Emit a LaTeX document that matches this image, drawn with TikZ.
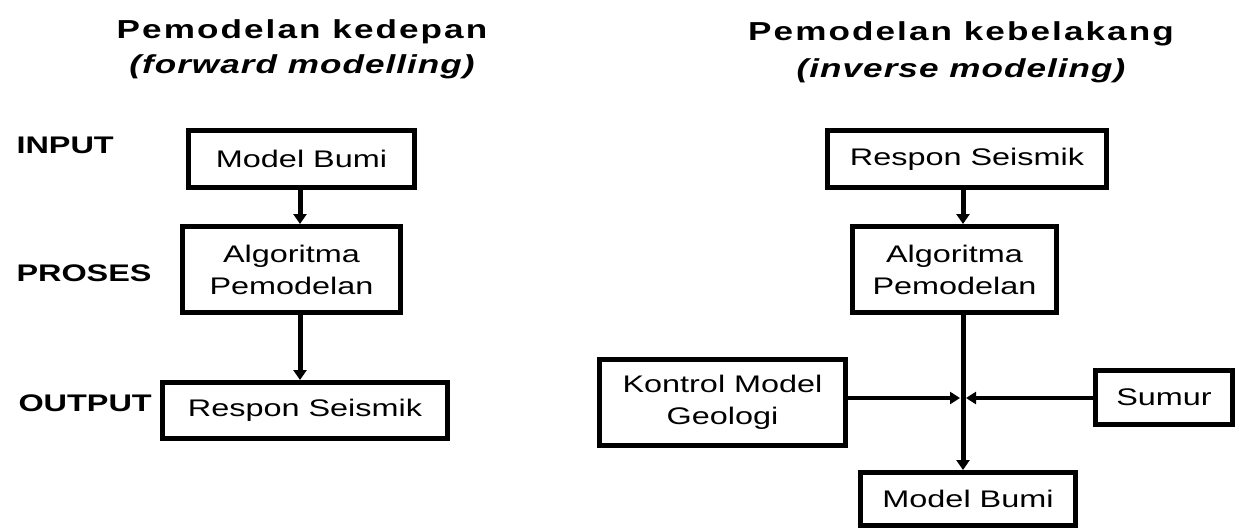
\documentclass[tikz,border=0pt]{standalone}
\usepackage{fontspec}
\setmainfont{Liberation Sans}[FakeStretch=1.35]
\usepackage{tikz}
\usetikzlibrary{arrows.meta}
\usetikzlibrary{positioning}
\tikzstyle{block} = [rectangle, draw, line width=5pt, text centered, align=center,
    inner sep=0pt, font=\fontsize{24}{32}\selectfont]
\tikzstyle{title} = [font=\fontsize{26}{30}\selectfont\bfseries\addfontfeature{LetterSpace=8}]
\tikzstyle{subtitle} = [font=\fontsize{26}{30}\selectfont\bfseries\itshape\addfontfeature{LetterSpace=4}]
\tikzstyle{stage} = [anchor=west, font=\fontsize{24}{28}\selectfont\bfseries]
\tikzstyle{line} = [draw, line width=5pt, -{Triangle[length=10pt,width=13pt]}]
\tikzstyle{side} = [draw, line width=4pt, -{Triangle[length=10pt,width=12pt]}, shorten >=3pt]

\begin{document}
\begin{tikzpicture}[x=1pt, y=-1pt]
  \useasboundingbox (0,0) rectangle (1237,531);
  % Forward modelling

  \node [title] (ftitle) at (302,32) {Pemodelan kedepan};
  \node [subtitle] (fsub) at (302,67) {(forward modelling)};
  \node [stage] (input) at (13,145) {INPUT};
  \node [stage] (proses) at (13,273) {PROSES};
  \node [stage] (output) at (15,403) {OUTPUT};
  \node [block, minimum width=226pt, minimum height=57pt] (fmodel) at (301.5,159) {Model Bumi};
  \node [block, minimum width=218pt, minimum height=86pt] (falgo) at (291.5,269.5) {Algoritma\\Pemodelan};
  \node [block, minimum width=285pt, minimum height=56pt] (fresp) at (305,410.5) {Respon Seismik};

  \coordinate (faxis) at (300,0);
  \path [line] (fmodel.south -| faxis) -- (falgo.north -| faxis);
  \path [line] (falgo.south -| faxis) -- (fresp.north -| faxis);

  % Inverse modeling

  \node [title] (ititle) at (961,34) {Pemodelan kebelakang};
  \node [subtitle] (isub) at (961,71) {(inverse modeling)};
  \node [block, minimum width=279pt, minimum height=57pt] (iresp) at (967,159) {Respon Seismik};
  \node [block, minimum width=204pt, minimum height=86pt] (ialgo) at (954.5,269.5) {Algoritma\\Pemodelan};
  \node [block, minimum width=246pt, minimum height=86pt] (kontrol) at (722.5,402.5) {Kontrol Model\\Geologi};
  \node [block, minimum width=137pt, minimum height=54pt] (sumur) at (1164,397.5) {Sumur};
  \node [block, minimum width=215pt, minimum height=53pt] (imodel) at (968,499) {Model Bumi};

  \coordinate (join) at (963,398);
  \path [line] (iresp.south -| join) -- (ialgo.north -| join);
  \path [line] (ialgo.south -| join) -- (imodel.north -| join);
  \path [side] (kontrol.east |- join) -- (join);
  \path [side] (sumur.west |- join) -- (join);

\end{tikzpicture}
\end{document}
